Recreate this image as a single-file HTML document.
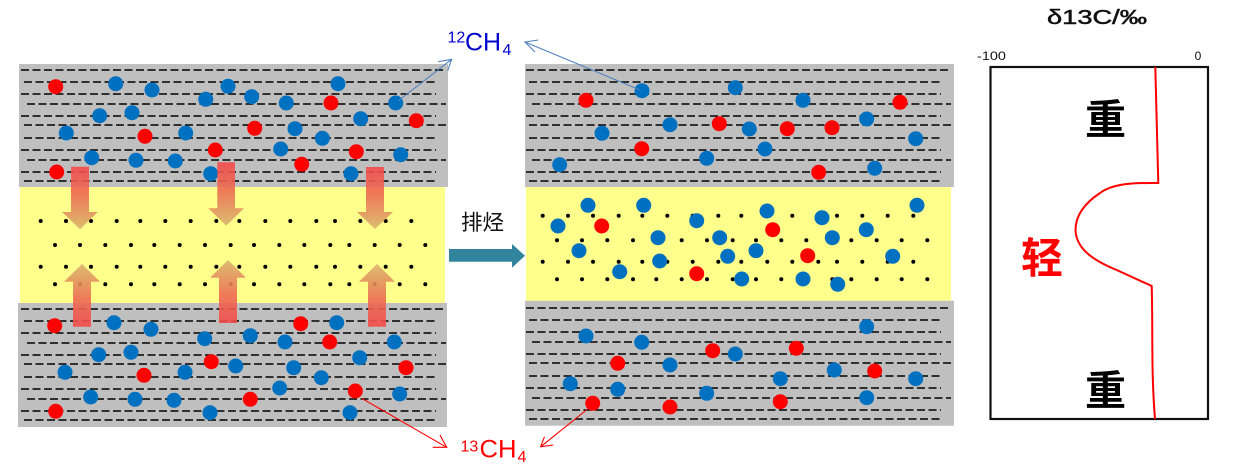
<!DOCTYPE html>
<html><head><meta charset="utf-8"><style>
html,body{margin:0;padding:0;background:#fff;}
svg{display:block;}
</style></head><body>
<svg width="1237" height="473" viewBox="0 0 1237 473" xmlns="http://www.w3.org/2000/svg">
<defs>
<linearGradient id="gd" x1="0" y1="0" x2="0" y2="1">
<stop offset="0" stop-color="#f44a4a"/><stop offset="0.45" stop-color="#ec6c52"/><stop offset="1" stop-color="#d9b56c"/>
</linearGradient>
<linearGradient id="gu" x1="0" y1="1" x2="0" y2="0">
<stop offset="0" stop-color="#f44a4a"/><stop offset="0.45" stop-color="#ec6c52"/><stop offset="1" stop-color="#d9b56c"/>
</linearGradient>
<g id="dash" stroke="#000" stroke-width="1.6" stroke-dasharray="8 3.5">
<line x1="21" y1="6" x2="446" y2="6"/>
<line x1="24" y1="18" x2="436" y2="18"/>
<line x1="21" y1="30" x2="436" y2="30"/>
<line x1="27" y1="40" x2="446" y2="40"/>
<line x1="21" y1="52" x2="436" y2="52"/>
<line x1="24" y1="61" x2="446" y2="61"/>
<line x1="24" y1="74" x2="436" y2="74"/>
<line x1="21" y1="86" x2="436" y2="86"/>
<line x1="27" y1="96" x2="446" y2="96"/>
<line x1="21" y1="108" x2="436" y2="108"/>
<line x1="24" y1="117" x2="438" y2="117"/>
</g>
<g id="rowA" fill="#000">
<circle cx="40.7" cy="0" r="2"/><circle cx="66" cy="0" r="2"/><circle cx="91" cy="0" r="2"/><circle cx="116.7" cy="0" r="2"/><circle cx="140.3" cy="0" r="2"/><circle cx="165.3" cy="0" r="2"/><circle cx="190.7" cy="0" r="2"/><circle cx="216.3" cy="0" r="2"/><circle cx="239.3" cy="0" r="2"/><circle cx="265.3" cy="0" r="2"/><circle cx="290.3" cy="0" r="2"/><circle cx="316.3" cy="0" r="2"/><circle cx="335" cy="0" r="2"/><circle cx="360.3" cy="0" r="2"/><circle cx="385.7" cy="0" r="2"/><circle cx="411.3" cy="0" r="2"/>
</g>
<g id="rowB" fill="#000">
<circle cx="55" cy="0" r="2"/><circle cx="80" cy="0" r="2"/><circle cx="105.3" cy="0" r="2"/><circle cx="131" cy="0" r="2"/><circle cx="154.3" cy="0" r="2"/><circle cx="179.7" cy="0" r="2"/><circle cx="205" cy="0" r="2"/><circle cx="230.7" cy="0" r="2"/><circle cx="254" cy="0" r="2"/><circle cx="279.3" cy="0" r="2"/><circle cx="304.3" cy="0" r="2"/><circle cx="330.3" cy="0" r="2"/><circle cx="349.3" cy="0" r="2"/><circle cx="374.7" cy="0" r="2"/><circle cx="399.7" cy="0" r="2"/><circle cx="425.3" cy="0" r="2"/>
</g>
</defs>

<!-- LEFT PANEL -->
<rect x="19" y="64" width="429" height="123" fill="#bfbfbf"/>
<rect x="18" y="303" width="429" height="124" fill="#bfbfbf"/>
<use href="#dash" transform="translate(0,64)"/>
<use href="#dash" transform="translate(0,303)"/>
<rect x="20" y="187" width="425" height="116" fill="#ffff8c"/>
<use href="#rowA" transform="translate(0,221)"/>
<use href="#rowB" transform="translate(0,245)"/>
<use href="#rowA" transform="translate(0,266.7)"/>
<use href="#rowB" transform="translate(0,284.3)"/>

<g fill="#0070c0">
<circle cx="115.7" cy="83.7" r="7.5"/><circle cx="152" cy="90" r="7.5"/><circle cx="205.7" cy="99.3" r="7.5"/><circle cx="228" cy="86.3" r="7.5"/><circle cx="251.7" cy="96.7" r="7.5"/><circle cx="286.3" cy="103" r="7.5"/><circle cx="338" cy="83.7" r="7.5"/><circle cx="395.7" cy="103" r="7.5"/><circle cx="99.7" cy="115.7" r="7.5"/><circle cx="132" cy="112.7" r="7.5"/><circle cx="360.7" cy="118.7" r="7.5"/><circle cx="66.3" cy="133" r="7.5"/><circle cx="185.7" cy="133" r="7.5"/><circle cx="295" cy="128.7" r="7.5"/><circle cx="322.3" cy="138.3" r="7.5"/><circle cx="280.7" cy="149" r="7.5"/><circle cx="400.7" cy="154.7" r="7.5"/><circle cx="91.7" cy="157.7" r="7.5"/><circle cx="136" cy="160.3" r="7.5"/><circle cx="175.3" cy="161" r="7.5"/><circle cx="210.7" cy="173.7" r="7.5"/><circle cx="351" cy="173.7" r="7.5"/>
<circle cx="114" cy="322.7" r="7.5"/><circle cx="151" cy="329.3" r="7.5"/><circle cx="204.7" cy="338.7" r="7.5"/><circle cx="250.3" cy="335.7" r="7.5"/><circle cx="336.7" cy="322.7" r="7.5"/><circle cx="285" cy="342" r="7.5"/><circle cx="394.3" cy="342" r="7.5"/><circle cx="98.7" cy="354.7" r="7.5"/><circle cx="131" cy="352.3" r="7.5"/><circle cx="359.7" cy="357.7" r="7.5"/><circle cx="65" cy="372.3" r="7.5"/><circle cx="185" cy="372.3" r="7.5"/><circle cx="235.7" cy="366" r="7.5"/><circle cx="293.7" cy="367.7" r="7.5"/><circle cx="321.3" cy="377.7" r="7.5"/><circle cx="279.7" cy="388" r="7.5"/><circle cx="399.7" cy="394" r="7.5"/><circle cx="90.7" cy="397" r="7.5"/><circle cx="135" cy="399.3" r="7.5"/><circle cx="174" cy="400.3" r="7.5"/><circle cx="210" cy="412.7" r="7.5"/><circle cx="350" cy="412.7" r="7.5"/>
</g>
<g fill="#ff0000">
<circle cx="55.7" cy="86.7" r="7.5"/><circle cx="331" cy="103" r="7.5"/><circle cx="416.3" cy="120.7" r="7.5"/><circle cx="145" cy="136.3" r="7.5"/><circle cx="254.7" cy="128.3" r="7.5"/><circle cx="215.3" cy="150" r="7.5"/><circle cx="356.3" cy="151.7" r="7.5"/><circle cx="301.7" cy="164.3" r="7.5"/><circle cx="56.7" cy="172" r="7.5"/>
<circle cx="54.7" cy="325.7" r="7.5"/><circle cx="300.7" cy="323.7" r="7.5"/><circle cx="329.7" cy="342" r="7.5"/><circle cx="406" cy="367.7" r="7.5"/><circle cx="144" cy="375.3" r="7.5"/><circle cx="211.3" cy="361.7" r="7.5"/><circle cx="355.3" cy="391" r="7.5"/><circle cx="250.3" cy="399.3" r="7.5"/><circle cx="55.7" cy="411.3" r="7.5"/>
</g>

<!-- orange arrows -->
<g opacity="0.9">
<polygon points="71,166.7 89,166.7 89,212 97.7,212 80,229.3 62,212 71,212" fill="url(#gd)"/>
<polygon points="217.3,162.3 235,162.3 235,208.3 244,208.3 226.2,225.7 208.3,208.3 217.3,208.3" fill="url(#gd)"/>
<polygon points="366,167 384,167 384,212 393,212 375,229 357,212 366,212" fill="url(#gd)"/>
<polygon points="82,264 100,281.7 91,281.7 91,326.7 73,326.7 73,281.7 64,281.7" fill="url(#gu)"/>
<polygon points="228,260 246,277.7 237,277.7 237,323 219,323 219,277.7 210,277.7" fill="url(#gu)"/>
<polygon points="377,264 395,281.7 386,281.7 386,326.7 368,326.7 368,281.7 359,281.7" fill="url(#gu)"/>
</g>

<!-- MIDDLE PANEL -->
<rect x="525" y="64" width="429" height="123" fill="#bfbfbf"/>
<rect x="525" y="300.7" width="429" height="125" fill="#bfbfbf"/>
<use href="#dash" transform="translate(505,64)"/>
<use href="#dash" transform="translate(505,302)"/>
<rect x="526" y="187" width="425" height="113.7" fill="#ffff8c"/>
<use href="#rowA" transform="translate(502,215.7)"/>
<use href="#rowB" transform="translate(502,240.3)"/>
<use href="#rowA" transform="translate(502,261.7)"/>
<use href="#rowB" transform="translate(502,279.3)"/>

<g fill="#0070c0">
<circle cx="642" cy="90.7" r="7.5"/><circle cx="735.3" cy="87.7" r="7.5"/><circle cx="803" cy="100.3" r="7.5"/><circle cx="602" cy="133.3" r="7.5"/><circle cx="670" cy="124.7" r="7.5"/><circle cx="749.3" cy="129" r="7.5"/><circle cx="866.7" cy="119" r="7.5"/><circle cx="915.7" cy="138.7" r="7.5"/><circle cx="765" cy="149" r="7.5"/><circle cx="706.7" cy="158.3" r="7.5"/><circle cx="559.7" cy="164.7" r="7.5"/><circle cx="874.7" cy="168.3" r="7.5"/>
<circle cx="588" cy="205.3" r="7.5"/><circle cx="643.7" cy="205.3" r="7.5"/><circle cx="767" cy="211" r="7.5"/><circle cx="917" cy="205.3" r="7.5"/><circle cx="558" cy="226" r="7.5"/><circle cx="696.7" cy="220.7" r="7.5"/><circle cx="822" cy="217.7" r="7.5"/><circle cx="866.3" cy="229.7" r="7.5"/><circle cx="658" cy="237.7" r="7.5"/><circle cx="719.7" cy="237.7" r="7.5"/><circle cx="832.3" cy="237.7" r="7.5"/><circle cx="579" cy="250.7" r="7.5"/><circle cx="727.7" cy="256.3" r="7.5"/><circle cx="756" cy="250.7" r="7.5"/><circle cx="892.7" cy="256.3" r="7.5"/><circle cx="659.7" cy="261" r="7.5"/><circle cx="619.7" cy="271.7" r="7.5"/><circle cx="741.7" cy="279" r="7.5"/><circle cx="803" cy="279" r="7.5"/><circle cx="837.7" cy="284.3" r="7.5"/>
<circle cx="586" cy="336" r="7.5"/><circle cx="641.7" cy="342.3" r="7.5"/><circle cx="735.3" cy="354" r="7.5"/><circle cx="866.7" cy="326.7" r="7.5"/><circle cx="670" cy="365" r="7.5"/><circle cx="834.3" cy="370" r="7.5"/><circle cx="915.7" cy="378.7" r="7.5"/><circle cx="780.3" cy="378.7" r="7.5"/><circle cx="570.3" cy="383.7" r="7.5"/><circle cx="617.7" cy="389.3" r="7.5"/><circle cx="706.7" cy="393.3" r="7.5"/><circle cx="866.7" cy="397.7" r="7.5"/>
</g>
<g fill="#ff0000">
<circle cx="586" cy="100.3" r="7.5"/><circle cx="900" cy="102.3" r="7.5"/><circle cx="719.3" cy="123.7" r="7.5"/><circle cx="787.3" cy="128.7" r="7.5"/><circle cx="832" cy="127.7" r="7.5"/><circle cx="641.7" cy="148.7" r="7.5"/><circle cx="818.7" cy="172.3" r="7.5"/>
<circle cx="601.7" cy="226" r="7.5"/><circle cx="772.7" cy="229.7" r="7.5"/><circle cx="807.7" cy="255.7" r="7.5"/><circle cx="696.7" cy="273.7" r="7.5"/>
<circle cx="712.7" cy="350.7" r="7.5"/><circle cx="796.3" cy="348.3" r="7.5"/><circle cx="617.7" cy="363.3" r="7.5"/><circle cx="874.7" cy="371" r="7.5"/><circle cx="592.7" cy="403.3" r="7.5"/><circle cx="670" cy="407" r="7.5"/><circle cx="780.3" cy="401.7" r="7.5"/>
</g>

<!-- connectors -->
<g fill="none" stroke="#4f81bd" stroke-width="1.1">
<line x1="398" y1="101" x2="451.7" y2="59.3"/>
<polyline points="438.3,61.7 451.7,59.3 447.7,70.7"/>
<line x1="640" y1="90" x2="525" y2="42"/>
<polyline points="538.3,40 525,42 535,52"/>
</g>
<g fill="none" stroke="#ff0000" stroke-width="1.1">
<line x1="361.7" y1="398.3" x2="446.7" y2="447.3"/>
<polyline points="432.7,447.3 446.7,447.3 440,435"/>
<line x1="587" y1="409.5" x2="540.7" y2="446.7"/>
<polyline points="553.3,445 540.7,446.7 544.5,436.7"/>
</g>

<!-- labels -->
<text x="447.5" y="42.7" font-family="Liberation Sans, sans-serif" font-size="16" fill="#0000cc">12</text>
<text x="465" y="50.5" font-family="Liberation Sans, sans-serif" font-size="25" fill="#0000cc" textLength="36" lengthAdjust="spacingAndGlyphs">CH</text>
<text x="502.5" y="55" font-family="Liberation Sans, sans-serif" font-size="16" fill="#0000cc">4</text>

<text x="460.5" y="451.5" font-family="Liberation Sans, sans-serif" font-size="16" fill="#ff0000">13</text>
<text x="479.5" y="457.5" font-family="Liberation Sans, sans-serif" font-size="25" fill="#ff0000" textLength="37" lengthAdjust="spacingAndGlyphs">CH</text>
<text x="517.5" y="462" font-family="Liberation Sans, sans-serif" font-size="16" fill="#ff0000">4</text>

<!-- middle arrow -->
<text x="461" y="230" font-family="Liberation Sans, 'Noto Sans CJK SC', sans-serif" font-size="21.5" fill="#111">排烃</text>
<polygon points="449,249 512,249 512,244 525,255.8 512,267.7 512,261.7 449,261.7" fill="#31849b"/>

<!-- RIGHT CHART -->
<text x="1097" y="24" text-anchor="middle" font-family="Liberation Sans, 'DejaVu Sans', sans-serif" font-size="20" fill="#111" stroke="#111" stroke-width="0.5" textLength="100" lengthAdjust="spacingAndGlyphs">δ13C/‰</text>
<text x="977" y="60" font-family="Liberation Sans, sans-serif" font-size="12" fill="#111" textLength="29" lengthAdjust="spacingAndGlyphs">-100</text>
<text x="1198" y="60" text-anchor="middle" font-family="Liberation Sans, sans-serif" font-size="12" fill="#111">0</text>
<rect x="990.5" y="67" width="217.5" height="352" fill="none" stroke="#111" stroke-width="2.2"/>
<path d="M1155.3,67 L1158.3,183 C1140,183 1115,182 1100,193 C1085,203 1075.5,215 1075.5,230 C1076,248 1092,260 1116.7,270 L1151.7,286 C1153,330 1151,370 1155,419" fill="none" stroke="#ff0000" stroke-width="2"/>
<text x="1105.5" y="134" text-anchor="middle" font-family="'Noto Sans CJK SC', sans-serif" font-weight="bold" font-size="41" fill="#000">重</text>
<text x="1105.5" y="405" text-anchor="middle" font-family="'Noto Sans CJK SC', sans-serif" font-weight="bold" font-size="41" fill="#000">重</text>
<text x="1042" y="273" text-anchor="middle" font-family="'Noto Sans CJK SC', sans-serif" font-weight="bold" font-size="42" fill="#ff0000">轻</text>
</svg>
</body></html>
